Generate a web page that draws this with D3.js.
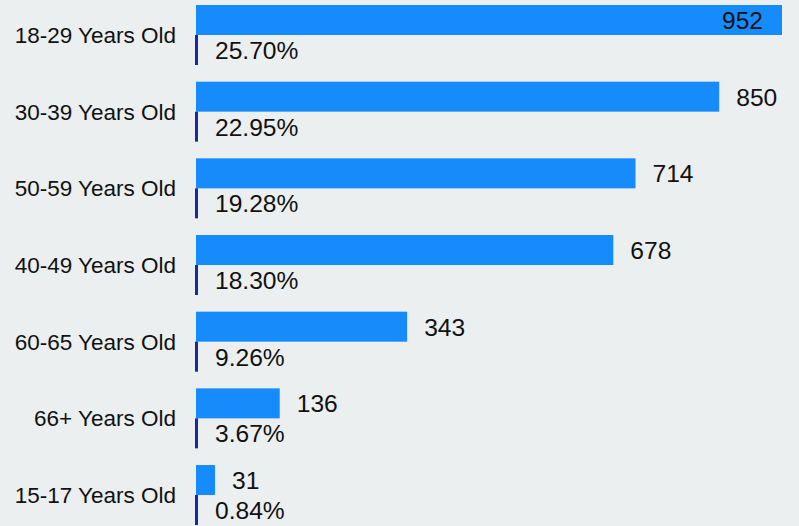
<!DOCTYPE html>
<html><head><meta charset="utf-8">
<script src="https://cdn.jsdelivr.net/npm/d3@7"></script>
<style>html,body{margin:0;padding:0;background:#ebeff0;}svg{display:block;}</style>
</head><body>
<script>
const categories = ["18-29 Years Old","30-39 Years Old","50-59 Years Old","40-49 Years Old","60-65 Years Old","66+ Years Old","15-17 Years Old"];
const counts = [952, 850, 714, 678, 343, 136, 31];
const percents = [25.70, 22.95, 19.28, 18.30, 9.26, 3.67, 0.84];

const W = 799, H = 526;
const svg = d3.select("body").append("svg").attr("width", W).attr("height", H)
  .style("font-family", "'Liberation Sans', Arial, sans-serif");
svg.append("rect").attr("width", W).attr("height", H).attr("fill", "#ebeff0");

const x = d3.scaleLinear().domain([0, 952]).range([196, 782]);
const y = d3.scaleBand().domain(categories).range([5, 5 + 7 * 76.67]).padding(0);
const barH = 30;

const data = categories.map((c, i) => ({c, v: counts[i], p: percents[i]}));

const g = svg.append("g");
g.selectAll("rect.count").data(data).join("rect").attr("class", "count")
  .attr("x", x(0)).attr("y", d => y(d.c))
  .attr("width", d => x(d.v) - x(0)).attr("height", barH)
  .attr("fill", "#168cfc");
g.selectAll("rect.pct").data(data).join("rect").attr("class", "pct")
  .attr("x", x(0) - 1).attr("y", d => y(d.c) + barH)
  .attr("width", d => Math.max(3, x(d.p / 100) - x(0))).attr("height", barH)
  .attr("fill", "#1a2a9c");

g.selectAll("text.cat").data(data).join("text").attr("class", "cat")
  .attr("x", 176).attr("y", d => y(d.c) + barH)
  .attr("dy", "0.35em").attr("text-anchor", "end")
  .attr("font-size", 22.5).attr("fill", "#111").text(d => d.c);

const fits = d => x(d.v) + 17 + 45 <= W;
g.selectAll("text.val").data(data).join("text").attr("class", "val")
  .attr("x", d => fits(d) ? x(d.v) + 17 : x(d.v) - 19)
  .attr("text-anchor", d => fits(d) ? "start" : "end")
  .attr("y", d => y(d.c) + barH / 2).attr("dy", "0.36em")
  .attr("font-size", 24.6).attr("fill", "#111").text(d => d.v);

g.selectAll("text.pl").data(data).join("text").attr("class", "pl")
  .attr("x", x(0) + 19)
  .attr("y", d => y(d.c) + barH * 1.5).attr("dy", "0.36em")
  .attr("font-size", 24.6).attr("fill", "#111").text(d => d.p.toFixed(2) + "%");
</script>
</body></html>
